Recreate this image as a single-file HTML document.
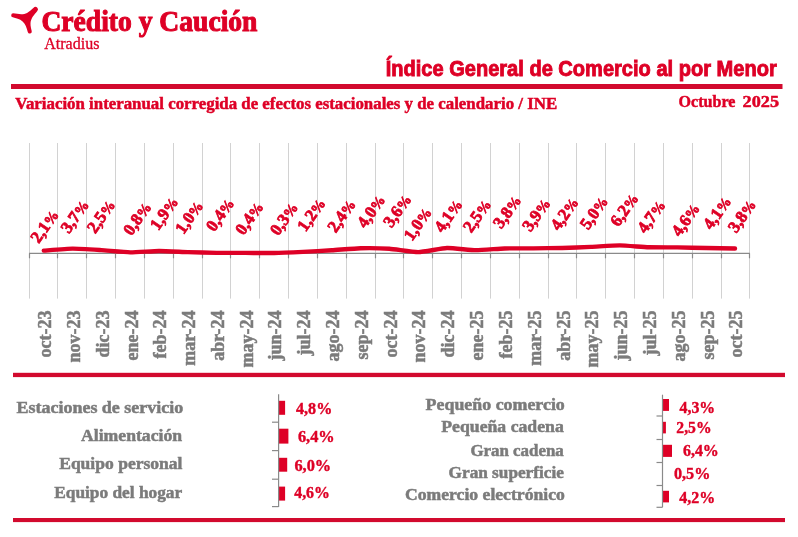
<!DOCTYPE html>
<html><head><meta charset="utf-8"><style>
html,body{margin:0;padding:0;background:#fff;width:798px;height:537px;overflow:hidden}
svg{display:block;will-change:transform}
text{white-space:pre}
</style></head><body>
<svg width="798" height="537" viewBox="0 0 798 537">
<rect width="798" height="537" fill="#fff"/>
<g transform="translate(8,4) scale(0.05956)" fill="#de0026"><path d="M85,157 C170,170 260,185 320,150 C360,125 400,90 430,62 A35,35 0 0 1 492,118 C440,180 385,240 378,320 C375,370 390,420 398,452 A34,34 0 0 1 332,472 C315,400 290,330 245,292 C200,255 130,240 80,224 A34,34 0 0 1 85,157 Z"/></g>
<text x="41.43" y="30.50" textLength="216.02" lengthAdjust="spacingAndGlyphs" font-family='"Liberation Serif"' font-weight="bold" font-size="28.5" fill="#de0026" stroke="#de0026" stroke-width="1.0">Crédito y Caución</text>
<text x="44.20" y="48.50" textLength="55.23" lengthAdjust="spacingAndGlyphs" font-family='"Liberation Serif"' font-weight="normal" font-size="16" fill="#de0026" stroke="#de0026" stroke-width="0.3">Atradius</text>
<text x="385.67" y="75.60" textLength="391.04" lengthAdjust="spacingAndGlyphs" font-family='"Liberation Sans"' font-weight="bold" font-size="21.5" fill="#de0026" stroke="#de0026" stroke-width="0.9">Índice General de Comercio al por Menor</text>
<rect x="11" y="84" width="771.5" height="5" fill="#d20a2e"/>
<text x="15.30" y="108.60" textLength="541.85" lengthAdjust="spacingAndGlyphs" font-family='"Liberation Serif"' font-weight="bold" font-size="17.5" fill="#de0026" stroke="#de0026" stroke-width="0.5">Variación interanual corregida de efectos estacionales y de calendario / INE</text>
<text x="678.50" y="107.20" textLength="56.89" lengthAdjust="spacingAndGlyphs" font-family='"Liberation Serif"' font-weight="bold" font-size="17.5" fill="#de0026" stroke="#de0026" stroke-width="0.5">Octubre</text>
<text x="742.60" y="107.20" textLength="36.44" lengthAdjust="spacingAndGlyphs" font-family='"Liberation Serif"' font-weight="bold" font-size="17.5" fill="#de0026" stroke="#de0026" stroke-width="0.5">2025</text>
<line x1="29.50" y1="143" x2="29.50" y2="298.6" stroke="#d2d2d2" stroke-width="1"/>
<line x1="57.50" y1="143" x2="57.50" y2="298.6" stroke="#d2d2d2" stroke-width="1"/>
<line x1="86.50" y1="143" x2="86.50" y2="298.6" stroke="#d2d2d2" stroke-width="1"/>
<line x1="115.50" y1="143" x2="115.50" y2="298.6" stroke="#d2d2d2" stroke-width="1"/>
<line x1="144.50" y1="143" x2="144.50" y2="298.6" stroke="#d2d2d2" stroke-width="1"/>
<line x1="173.50" y1="143" x2="173.50" y2="298.6" stroke="#d2d2d2" stroke-width="1"/>
<line x1="202.50" y1="143" x2="202.50" y2="298.6" stroke="#d2d2d2" stroke-width="1"/>
<line x1="230.50" y1="143" x2="230.50" y2="298.6" stroke="#d2d2d2" stroke-width="1"/>
<line x1="259.50" y1="143" x2="259.50" y2="298.6" stroke="#d2d2d2" stroke-width="1"/>
<line x1="288.50" y1="143" x2="288.50" y2="298.6" stroke="#d2d2d2" stroke-width="1"/>
<line x1="317.50" y1="143" x2="317.50" y2="298.6" stroke="#d2d2d2" stroke-width="1"/>
<line x1="346.50" y1="143" x2="346.50" y2="298.6" stroke="#d2d2d2" stroke-width="1"/>
<line x1="375.50" y1="143" x2="375.50" y2="298.6" stroke="#d2d2d2" stroke-width="1"/>
<line x1="403.50" y1="143" x2="403.50" y2="298.6" stroke="#d2d2d2" stroke-width="1"/>
<line x1="432.50" y1="143" x2="432.50" y2="298.6" stroke="#d2d2d2" stroke-width="1"/>
<line x1="461.50" y1="143" x2="461.50" y2="298.6" stroke="#d2d2d2" stroke-width="1"/>
<line x1="490.50" y1="143" x2="490.50" y2="298.6" stroke="#d2d2d2" stroke-width="1"/>
<line x1="519.50" y1="143" x2="519.50" y2="298.6" stroke="#d2d2d2" stroke-width="1"/>
<line x1="548.50" y1="143" x2="548.50" y2="298.6" stroke="#d2d2d2" stroke-width="1"/>
<line x1="576.50" y1="143" x2="576.50" y2="298.6" stroke="#d2d2d2" stroke-width="1"/>
<line x1="605.50" y1="143" x2="605.50" y2="298.6" stroke="#d2d2d2" stroke-width="1"/>
<line x1="634.50" y1="143" x2="634.50" y2="298.6" stroke="#d2d2d2" stroke-width="1"/>
<line x1="663.50" y1="143" x2="663.50" y2="298.6" stroke="#d2d2d2" stroke-width="1"/>
<line x1="692.50" y1="143" x2="692.50" y2="298.6" stroke="#d2d2d2" stroke-width="1"/>
<line x1="721.50" y1="143" x2="721.50" y2="298.6" stroke="#d2d2d2" stroke-width="1"/>
<line x1="749.50" y1="143" x2="749.50" y2="298.6" stroke="#d2d2d2" stroke-width="1"/>
<line x1="29" y1="253.4" x2="750" y2="253.4" stroke="#8a8a8a" stroke-width="1.2"/>
<line x1="29.50" y1="253.4" x2="29.50" y2="258.3" stroke="#8a8a8a" stroke-width="1.2"/>
<line x1="57.50" y1="253.4" x2="57.50" y2="258.3" stroke="#8a8a8a" stroke-width="1.2"/>
<line x1="86.50" y1="253.4" x2="86.50" y2="258.3" stroke="#8a8a8a" stroke-width="1.2"/>
<line x1="115.50" y1="253.4" x2="115.50" y2="258.3" stroke="#8a8a8a" stroke-width="1.2"/>
<line x1="144.50" y1="253.4" x2="144.50" y2="258.3" stroke="#8a8a8a" stroke-width="1.2"/>
<line x1="173.50" y1="253.4" x2="173.50" y2="258.3" stroke="#8a8a8a" stroke-width="1.2"/>
<line x1="202.50" y1="253.4" x2="202.50" y2="258.3" stroke="#8a8a8a" stroke-width="1.2"/>
<line x1="230.50" y1="253.4" x2="230.50" y2="258.3" stroke="#8a8a8a" stroke-width="1.2"/>
<line x1="259.50" y1="253.4" x2="259.50" y2="258.3" stroke="#8a8a8a" stroke-width="1.2"/>
<line x1="288.50" y1="253.4" x2="288.50" y2="258.3" stroke="#8a8a8a" stroke-width="1.2"/>
<line x1="317.50" y1="253.4" x2="317.50" y2="258.3" stroke="#8a8a8a" stroke-width="1.2"/>
<line x1="346.50" y1="253.4" x2="346.50" y2="258.3" stroke="#8a8a8a" stroke-width="1.2"/>
<line x1="375.50" y1="253.4" x2="375.50" y2="258.3" stroke="#8a8a8a" stroke-width="1.2"/>
<line x1="403.50" y1="253.4" x2="403.50" y2="258.3" stroke="#8a8a8a" stroke-width="1.2"/>
<line x1="432.50" y1="253.4" x2="432.50" y2="258.3" stroke="#8a8a8a" stroke-width="1.2"/>
<line x1="461.50" y1="253.4" x2="461.50" y2="258.3" stroke="#8a8a8a" stroke-width="1.2"/>
<line x1="490.50" y1="253.4" x2="490.50" y2="258.3" stroke="#8a8a8a" stroke-width="1.2"/>
<line x1="519.50" y1="253.4" x2="519.50" y2="258.3" stroke="#8a8a8a" stroke-width="1.2"/>
<line x1="548.50" y1="253.4" x2="548.50" y2="258.3" stroke="#8a8a8a" stroke-width="1.2"/>
<line x1="576.50" y1="253.4" x2="576.50" y2="258.3" stroke="#8a8a8a" stroke-width="1.2"/>
<line x1="605.50" y1="253.4" x2="605.50" y2="258.3" stroke="#8a8a8a" stroke-width="1.2"/>
<line x1="634.50" y1="253.4" x2="634.50" y2="258.3" stroke="#8a8a8a" stroke-width="1.2"/>
<line x1="663.50" y1="253.4" x2="663.50" y2="258.3" stroke="#8a8a8a" stroke-width="1.2"/>
<line x1="692.50" y1="253.4" x2="692.50" y2="258.3" stroke="#8a8a8a" stroke-width="1.2"/>
<line x1="721.50" y1="253.4" x2="721.50" y2="258.3" stroke="#8a8a8a" stroke-width="1.2"/>
<line x1="749.50" y1="253.4" x2="749.50" y2="258.3" stroke="#8a8a8a" stroke-width="1.2"/>
<path d="M43.80,250.67 C46.20,250.50 67.80,248.63 72.60,248.59 C77.40,248.55 96.60,249.84 101.40,250.15 C106.20,250.46 125.40,252.30 130.20,252.36 C135.00,252.43 154.20,250.95 159.00,250.93 C163.80,250.91 183.00,251.94 187.80,252.10 C192.60,252.26 211.80,252.81 216.60,252.88 C221.40,252.94 240.60,252.87 245.40,252.88 C250.20,252.89 269.40,253.10 274.20,253.01 C279.00,252.92 298.20,252.07 303.00,251.84 C307.80,251.61 327.00,250.58 331.80,250.28 C336.60,249.98 355.80,248.33 360.60,248.20 C365.40,248.07 384.60,248.40 389.40,248.72 C394.20,249.04 413.40,252.15 418.20,252.10 C423.00,252.05 442.20,248.23 447.00,248.07 C451.80,247.91 471.00,250.12 475.80,250.15 C480.60,250.18 499.80,248.61 504.60,248.46 C509.40,248.31 528.60,248.37 533.40,248.33 C538.20,248.29 557.40,248.06 562.20,247.94 C567.00,247.82 586.20,247.12 591.00,246.90 C595.80,246.68 615.00,245.31 619.80,245.34 C624.60,245.37 643.80,247.12 648.60,247.29 C653.40,247.46 672.60,247.36 677.40,247.42 C682.20,247.49 701.40,247.98 706.20,248.07 C711.00,248.16 732.60,248.43 735.00,248.46" fill="none" stroke="#de0026" stroke-width="4.4" stroke-linecap="round" stroke-linejoin="round"/>
<text transform="translate(44.30,226.50) rotate(-55)" x="-17.62" y="5.57" font-family='"Liberation Serif"' font-weight="bold" font-size="17" fill="#de0026" stroke="#de0026" stroke-width="0.75">2,1<tspan font-size="14.5">%</tspan></text>
<text transform="translate(74.50,216.60) rotate(-55)" x="-17.62" y="5.57" font-family='"Liberation Serif"' font-weight="bold" font-size="17" fill="#de0026" stroke="#de0026" stroke-width="0.75">3,7<tspan font-size="14.5">%</tspan></text>
<text transform="translate(100.80,216.60) rotate(-55)" x="-17.62" y="5.57" font-family='"Liberation Serif"' font-weight="bold" font-size="17" fill="#de0026" stroke="#de0026" stroke-width="0.75">2,5<tspan font-size="14.5">%</tspan></text>
<text transform="translate(137.00,218.80) rotate(-55)" x="-17.62" y="5.57" font-family='"Liberation Serif"' font-weight="bold" font-size="17" fill="#de0026" stroke="#de0026" stroke-width="0.75">0,8<tspan font-size="14.5">%</tspan></text>
<text transform="translate(164.10,213.10) rotate(-55)" x="-18.12" y="5.57" font-family='"Liberation Serif"' font-weight="bold" font-size="17" fill="#de0026" stroke="#de0026" stroke-width="0.75">1,9<tspan font-size="14.5">%</tspan></text>
<text transform="translate(189.20,217.00) rotate(-55)" x="-18.12" y="5.57" font-family='"Liberation Serif"' font-weight="bold" font-size="17" fill="#de0026" stroke="#de0026" stroke-width="0.75">1,0<tspan font-size="14.5">%</tspan></text>
<text transform="translate(219.90,214.90) rotate(-55)" x="-17.62" y="5.57" font-family='"Liberation Serif"' font-weight="bold" font-size="17" fill="#de0026" stroke="#de0026" stroke-width="0.75">0,4<tspan font-size="14.5">%</tspan></text>
<text transform="translate(249.00,218.50) rotate(-55)" x="-17.62" y="5.57" font-family='"Liberation Serif"' font-weight="bold" font-size="17" fill="#de0026" stroke="#de0026" stroke-width="0.75">0,4<tspan font-size="14.5">%</tspan></text>
<text transform="translate(283.70,219.00) rotate(-55)" x="-17.62" y="5.57" font-family='"Liberation Serif"' font-weight="bold" font-size="17" fill="#de0026" stroke="#de0026" stroke-width="0.75">0,3<tspan font-size="14.5">%</tspan></text>
<text transform="translate(311.40,214.50) rotate(-55)" x="-18.12" y="5.57" font-family='"Liberation Serif"' font-weight="bold" font-size="17" fill="#de0026" stroke="#de0026" stroke-width="0.75">1,2<tspan font-size="14.5">%</tspan></text>
<text transform="translate(341.30,216.00) rotate(-55)" x="-17.62" y="5.57" font-family='"Liberation Serif"' font-weight="bold" font-size="17" fill="#de0026" stroke="#de0026" stroke-width="0.75">2,4<tspan font-size="14.5">%</tspan></text>
<text transform="translate(370.90,211.50) rotate(-55)" x="-17.62" y="5.57" font-family='"Liberation Serif"' font-weight="bold" font-size="17" fill="#de0026" stroke="#de0026" stroke-width="0.75">4,0<tspan font-size="14.5">%</tspan></text>
<text transform="translate(397.00,211.00) rotate(-55)" x="-17.62" y="5.57" font-family='"Liberation Serif"' font-weight="bold" font-size="17" fill="#de0026" stroke="#de0026" stroke-width="0.75">3,6<tspan font-size="14.5">%</tspan></text>
<text transform="translate(417.70,223.60) rotate(-55)" x="-18.12" y="5.57" font-family='"Liberation Serif"' font-weight="bold" font-size="17" fill="#de0026" stroke="#de0026" stroke-width="0.75">1,0<tspan font-size="14.5">%</tspan></text>
<text transform="translate(448.00,216.00) rotate(-55)" x="-17.62" y="5.57" font-family='"Liberation Serif"' font-weight="bold" font-size="17" fill="#de0026" stroke="#de0026" stroke-width="0.75">4,1<tspan font-size="14.5">%</tspan></text>
<text transform="translate(476.80,216.00) rotate(-55)" x="-17.62" y="5.57" font-family='"Liberation Serif"' font-weight="bold" font-size="17" fill="#de0026" stroke="#de0026" stroke-width="0.75">2,5<tspan font-size="14.5">%</tspan></text>
<text transform="translate(506.90,212.00) rotate(-55)" x="-17.62" y="5.57" font-family='"Liberation Serif"' font-weight="bold" font-size="17" fill="#de0026" stroke="#de0026" stroke-width="0.75">3,8<tspan font-size="14.5">%</tspan></text>
<text transform="translate(536.00,215.00) rotate(-55)" x="-17.62" y="5.57" font-family='"Liberation Serif"' font-weight="bold" font-size="17" fill="#de0026" stroke="#de0026" stroke-width="0.75">3,9<tspan font-size="14.5">%</tspan></text>
<text transform="translate(564.20,214.00) rotate(-55)" x="-17.62" y="5.57" font-family='"Liberation Serif"' font-weight="bold" font-size="17" fill="#de0026" stroke="#de0026" stroke-width="0.75">4,2<tspan font-size="14.5">%</tspan></text>
<text transform="translate(593.70,213.00) rotate(-55)" x="-17.62" y="5.57" font-family='"Liberation Serif"' font-weight="bold" font-size="17" fill="#de0026" stroke="#de0026" stroke-width="0.75">5,0<tspan font-size="14.5">%</tspan></text>
<text transform="translate(624.00,210.00) rotate(-55)" x="-17.62" y="5.57" font-family='"Liberation Serif"' font-weight="bold" font-size="17" fill="#de0026" stroke="#de0026" stroke-width="0.75">6,2<tspan font-size="14.5">%</tspan></text>
<text transform="translate(651.00,216.70) rotate(-55)" x="-17.62" y="5.57" font-family='"Liberation Serif"' font-weight="bold" font-size="17" fill="#de0026" stroke="#de0026" stroke-width="0.75">4,7<tspan font-size="14.5">%</tspan></text>
<text transform="translate(685.40,220.00) rotate(-55)" x="-17.62" y="5.57" font-family='"Liberation Serif"' font-weight="bold" font-size="17" fill="#de0026" stroke="#de0026" stroke-width="0.75">4,6<tspan font-size="14.5">%</tspan></text>
<text transform="translate(716.90,213.00) rotate(-55)" x="-17.62" y="5.57" font-family='"Liberation Serif"' font-weight="bold" font-size="17" fill="#de0026" stroke="#de0026" stroke-width="0.75">4,1<tspan font-size="14.5">%</tspan></text>
<text transform="translate(741.70,216.20) rotate(-55)" x="-17.62" y="5.57" font-family='"Liberation Serif"' font-weight="bold" font-size="17" fill="#de0026" stroke="#de0026" stroke-width="0.75">3,8<tspan font-size="14.5">%</tspan></text>
<text transform="translate(51.09,310.50) rotate(-90)" x="0" y="0" text-anchor="end" font-family='"Liberation Serif"' font-weight="bold" font-size="18" fill="#7b7b7b" stroke="#7b7b7b" stroke-width="0.5">oct-23</text>
<text transform="translate(79.89,310.50) rotate(-90)" x="0" y="0" text-anchor="end" font-family='"Liberation Serif"' font-weight="bold" font-size="18" fill="#7b7b7b" stroke="#7b7b7b" stroke-width="0.5">nov-23</text>
<text transform="translate(108.70,310.50) rotate(-90)" x="0" y="0" text-anchor="end" font-family='"Liberation Serif"' font-weight="bold" font-size="18" fill="#7b7b7b" stroke="#7b7b7b" stroke-width="0.5">dic-23</text>
<text transform="translate(137.50,310.50) rotate(-90)" x="0" y="0" text-anchor="end" font-family='"Liberation Serif"' font-weight="bold" font-size="18" fill="#7b7b7b" stroke="#7b7b7b" stroke-width="0.5">ene-24</text>
<text transform="translate(166.30,310.50) rotate(-90)" x="0" y="0" text-anchor="end" font-family='"Liberation Serif"' font-weight="bold" font-size="18" fill="#7b7b7b" stroke="#7b7b7b" stroke-width="0.5">feb-24</text>
<text transform="translate(195.10,310.50) rotate(-90)" x="0" y="0" text-anchor="end" font-family='"Liberation Serif"' font-weight="bold" font-size="18" fill="#7b7b7b" stroke="#7b7b7b" stroke-width="0.5">mar-24</text>
<text transform="translate(223.90,310.50) rotate(-90)" x="0" y="0" text-anchor="end" font-family='"Liberation Serif"' font-weight="bold" font-size="18" fill="#7b7b7b" stroke="#7b7b7b" stroke-width="0.5">abr-24</text>
<text transform="translate(252.70,310.50) rotate(-90)" x="0" y="0" text-anchor="end" font-family='"Liberation Serif"' font-weight="bold" font-size="18" fill="#7b7b7b" stroke="#7b7b7b" stroke-width="0.5">may-24</text>
<text transform="translate(281.49,310.50) rotate(-90)" x="0" y="0" text-anchor="end" font-family='"Liberation Serif"' font-weight="bold" font-size="18" fill="#7b7b7b" stroke="#7b7b7b" stroke-width="0.5">jun-24</text>
<text transform="translate(310.29,310.50) rotate(-90)" x="0" y="0" text-anchor="end" font-family='"Liberation Serif"' font-weight="bold" font-size="18" fill="#7b7b7b" stroke="#7b7b7b" stroke-width="0.5">jul-24</text>
<text transform="translate(339.09,310.50) rotate(-90)" x="0" y="0" text-anchor="end" font-family='"Liberation Serif"' font-weight="bold" font-size="18" fill="#7b7b7b" stroke="#7b7b7b" stroke-width="0.5">ago-24</text>
<text transform="translate(367.89,310.50) rotate(-90)" x="0" y="0" text-anchor="end" font-family='"Liberation Serif"' font-weight="bold" font-size="18" fill="#7b7b7b" stroke="#7b7b7b" stroke-width="0.5">sep-24</text>
<text transform="translate(396.69,310.50) rotate(-90)" x="0" y="0" text-anchor="end" font-family='"Liberation Serif"' font-weight="bold" font-size="18" fill="#7b7b7b" stroke="#7b7b7b" stroke-width="0.5">oct-24</text>
<text transform="translate(425.49,310.50) rotate(-90)" x="0" y="0" text-anchor="end" font-family='"Liberation Serif"' font-weight="bold" font-size="18" fill="#7b7b7b" stroke="#7b7b7b" stroke-width="0.5">nov-24</text>
<text transform="translate(454.29,310.50) rotate(-90)" x="0" y="0" text-anchor="end" font-family='"Liberation Serif"' font-weight="bold" font-size="18" fill="#7b7b7b" stroke="#7b7b7b" stroke-width="0.5">dic-24</text>
<text transform="translate(483.09,310.50) rotate(-90)" x="0" y="0" text-anchor="end" font-family='"Liberation Serif"' font-weight="bold" font-size="18" fill="#7b7b7b" stroke="#7b7b7b" stroke-width="0.5">ene-25</text>
<text transform="translate(511.89,310.50) rotate(-90)" x="0" y="0" text-anchor="end" font-family='"Liberation Serif"' font-weight="bold" font-size="18" fill="#7b7b7b" stroke="#7b7b7b" stroke-width="0.5">feb-25</text>
<text transform="translate(540.69,310.50) rotate(-90)" x="0" y="0" text-anchor="end" font-family='"Liberation Serif"' font-weight="bold" font-size="18" fill="#7b7b7b" stroke="#7b7b7b" stroke-width="0.5">mar-25</text>
<text transform="translate(569.50,310.50) rotate(-90)" x="0" y="0" text-anchor="end" font-family='"Liberation Serif"' font-weight="bold" font-size="18" fill="#7b7b7b" stroke="#7b7b7b" stroke-width="0.5">abr-25</text>
<text transform="translate(598.29,310.50) rotate(-90)" x="0" y="0" text-anchor="end" font-family='"Liberation Serif"' font-weight="bold" font-size="18" fill="#7b7b7b" stroke="#7b7b7b" stroke-width="0.5">may-25</text>
<text transform="translate(627.09,310.50) rotate(-90)" x="0" y="0" text-anchor="end" font-family='"Liberation Serif"' font-weight="bold" font-size="18" fill="#7b7b7b" stroke="#7b7b7b" stroke-width="0.5">jun-25</text>
<text transform="translate(655.89,310.50) rotate(-90)" x="0" y="0" text-anchor="end" font-family='"Liberation Serif"' font-weight="bold" font-size="18" fill="#7b7b7b" stroke="#7b7b7b" stroke-width="0.5">jul-25</text>
<text transform="translate(684.69,310.50) rotate(-90)" x="0" y="0" text-anchor="end" font-family='"Liberation Serif"' font-weight="bold" font-size="18" fill="#7b7b7b" stroke="#7b7b7b" stroke-width="0.5">ago-25</text>
<text transform="translate(713.50,310.50) rotate(-90)" x="0" y="0" text-anchor="end" font-family='"Liberation Serif"' font-weight="bold" font-size="18" fill="#7b7b7b" stroke="#7b7b7b" stroke-width="0.5">sep-25</text>
<text transform="translate(742.29,310.50) rotate(-90)" x="0" y="0" text-anchor="end" font-family='"Liberation Serif"' font-weight="bold" font-size="18" fill="#7b7b7b" stroke="#7b7b7b" stroke-width="0.5">oct-25</text>
<rect x="13" y="372.8" width="772" height="4.3" fill="#d20a2e"/>
<text x="16.50" y="412.80" textLength="166.73" lengthAdjust="spacingAndGlyphs" font-family='"Liberation Serif"' font-weight="bold" font-size="17" fill="#7b7b7b" stroke="#7b7b7b" stroke-width="0.5">Estaciones de servicio</text>
<text x="81.00" y="440.80" textLength="101.13" lengthAdjust="spacingAndGlyphs" font-family='"Liberation Serif"' font-weight="bold" font-size="17" fill="#7b7b7b" stroke="#7b7b7b" stroke-width="0.5">Alimentación</text>
<text x="59.20" y="469.20" textLength="123.21" lengthAdjust="spacingAndGlyphs" font-family='"Liberation Serif"' font-weight="bold" font-size="17" fill="#7b7b7b" stroke="#7b7b7b" stroke-width="0.5">Equipo personal</text>
<text x="54.20" y="498.00" textLength="128.04" lengthAdjust="spacingAndGlyphs" font-family='"Liberation Serif"' font-weight="bold" font-size="17" fill="#7b7b7b" stroke="#7b7b7b" stroke-width="0.5">Equipo del hogar</text>
<rect x="278.6" y="400.8" width="6.5" height="14.0" fill="#de0026"/>
<text x="296.00" y="414.10" textLength="36.28" lengthAdjust="spacingAndGlyphs" font-family='"Liberation Serif"' font-weight="bold" font-size="17.5" fill="#de0026" stroke="#de0026" stroke-width="0.4">4,8%</text>
<rect x="278.6" y="428.7" width="9.8" height="14.9" fill="#de0026"/>
<text x="297.90" y="442.00" textLength="36.80" lengthAdjust="spacingAndGlyphs" font-family='"Liberation Serif"' font-weight="bold" font-size="17.5" fill="#de0026" stroke="#de0026" stroke-width="0.4">6,4%</text>
<rect x="278.6" y="457.8" width="8.6" height="13.9" fill="#de0026"/>
<text x="294.40" y="470.60" textLength="36.80" lengthAdjust="spacingAndGlyphs" font-family='"Liberation Serif"' font-weight="bold" font-size="17.5" fill="#de0026" stroke="#de0026" stroke-width="0.4">6,0%</text>
<rect x="278.6" y="486.6" width="6.5" height="14.0" fill="#de0026"/>
<text x="294.20" y="497.80" textLength="35.76" lengthAdjust="spacingAndGlyphs" font-family='"Liberation Serif"' font-weight="bold" font-size="17.5" fill="#de0026" stroke="#de0026" stroke-width="0.4">4,6%</text>
<g stroke="#8a8a8a" stroke-width="1.2"><line x1="278.6" y1="394.3" x2="278.6" y2="507"/><line x1="272" y1="422.2" x2="278.6" y2="422.2"/><line x1="272" y1="450.6" x2="278.6" y2="450.6"/><line x1="272" y1="479.2" x2="278.6" y2="479.2"/><line x1="272" y1="506.6" x2="278.6" y2="506.6"/></g>
<text x="425.60" y="409.70" textLength="139.23" lengthAdjust="spacingAndGlyphs" font-family='"Liberation Serif"' font-weight="bold" font-size="17" fill="#7b7b7b" stroke="#7b7b7b" stroke-width="0.5">Pequeño comercio</text>
<text x="441.30" y="432.20" textLength="122.48" lengthAdjust="spacingAndGlyphs" font-family='"Liberation Serif"' font-weight="bold" font-size="17" fill="#7b7b7b" stroke="#7b7b7b" stroke-width="0.5">Pequeña cadena</text>
<text x="470.40" y="455.70" textLength="93.40" lengthAdjust="spacingAndGlyphs" font-family='"Liberation Serif"' font-weight="bold" font-size="17" fill="#7b7b7b" stroke="#7b7b7b" stroke-width="0.5">Gran cadena</text>
<text x="448.60" y="478.20" textLength="115.24" lengthAdjust="spacingAndGlyphs" font-family='"Liberation Serif"' font-weight="bold" font-size="17" fill="#7b7b7b" stroke="#7b7b7b" stroke-width="0.5">Gran superficie</text>
<text x="405.00" y="500.40" textLength="159.82" lengthAdjust="spacingAndGlyphs" font-family='"Liberation Serif"' font-weight="bold" font-size="17" fill="#7b7b7b" stroke="#7b7b7b" stroke-width="0.5">Comercio electrónico</text>
<rect x="662.5" y="399" width="6.5" height="11.9" fill="#de0026"/>
<text x="679.50" y="412.80" textLength="35.66" lengthAdjust="spacingAndGlyphs" font-family='"Liberation Serif"' font-weight="bold" font-size="17.5" fill="#de0026" stroke="#de0026" stroke-width="0.4">4,3%</text>
<rect x="662.5" y="421.8" width="3.4" height="11.6" fill="#de0026"/>
<text x="676.30" y="433.40" textLength="35.24" lengthAdjust="spacingAndGlyphs" font-family='"Liberation Serif"' font-weight="bold" font-size="17.5" fill="#de0026" stroke="#de0026" stroke-width="0.4">2,5%</text>
<rect x="662.5" y="444.8" width="9.5" height="12.1" fill="#de0026"/>
<text x="682.90" y="456.40" textLength="35.97" lengthAdjust="spacingAndGlyphs" font-family='"Liberation Serif"' font-weight="bold" font-size="17.5" fill="#de0026" stroke="#de0026" stroke-width="0.4">6,4%</text>
<text x="673.90" y="479.40" textLength="36.49" lengthAdjust="spacingAndGlyphs" font-family='"Liberation Serif"' font-weight="bold" font-size="17.5" fill="#de0026" stroke="#de0026" stroke-width="0.4">0,5%</text>
<rect x="662.5" y="490.8" width="6.5" height="11.6" fill="#de0026"/>
<text x="679.20" y="502.90" textLength="35.97" lengthAdjust="spacingAndGlyphs" font-family='"Liberation Serif"' font-weight="bold" font-size="17.5" fill="#de0026" stroke="#de0026" stroke-width="0.4">4,2%</text>
<g stroke="#8a8a8a" stroke-width="1.2"><line x1="662.5" y1="394.7" x2="662.5" y2="507.3"/><line x1="656.5" y1="416" x2="662.5" y2="416"/><line x1="656.5" y1="439.5" x2="662.5" y2="439.5"/><line x1="656.5" y1="462.5" x2="662.5" y2="462.5"/><line x1="656.5" y1="485.5" x2="662.5" y2="485.5"/><line x1="656.5" y1="507.3" x2="662.5" y2="507.3"/></g>
<rect x="13" y="518" width="772" height="4.1" fill="#d20a2e"/>
</svg>
</body></html>
